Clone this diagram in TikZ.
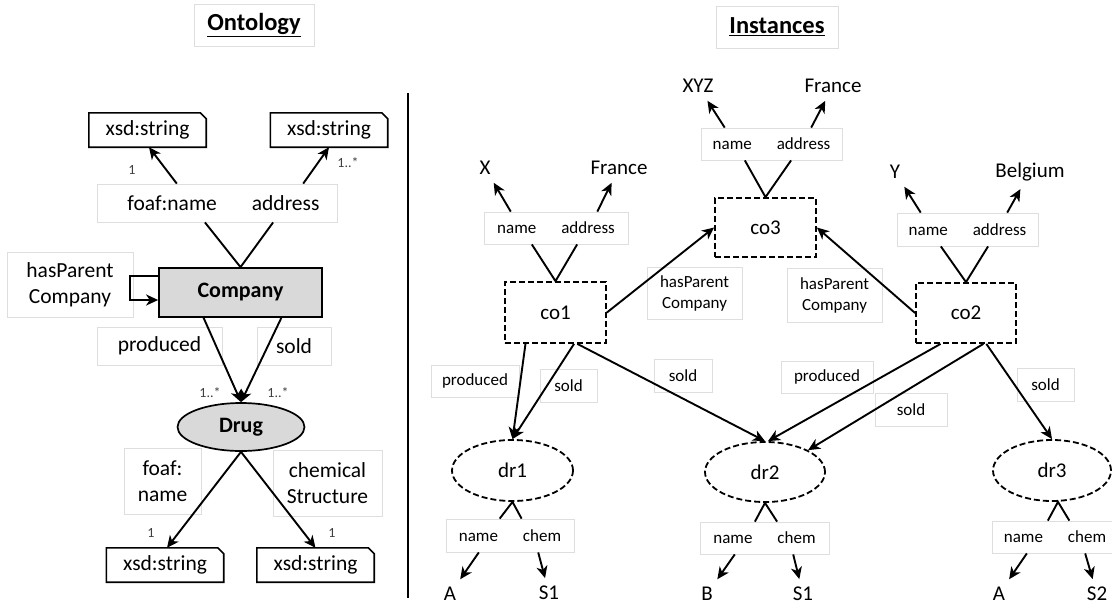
\documentclass[tikz,border=0pt]{standalone}
\usepackage{fontspec}
\setmainfont{Carlito}
\usetikzlibrary{arrows.meta,calc,shapes.geometric}
\newcommand\xsdframe[1]{\draw[line width=1.6pt] (#1.south west) -- (#1.north west) -- ([xshift=-6pt]#1.north east) -- ([yshift=-6pt]#1.north east) -- (#1.south east) -- cycle;}
\begin{document}
\begin{tikzpicture}[x=1pt,y=-1pt,
 arr/.style={line width=1.9pt,-{Stealth[length=12pt,width=11pt,inset=3.5pt]}},
 ln/.style={line width=1.9pt},
 lbl/.style={draw=black!13,line width=0.8pt,fill=white,inner sep=0pt,align=center,font=\fontsize{21.5}{26}\selectfont},
 ilbl/.style={lbl,font=\fontsize{17}{21}\selectfont},
 ttl/.style={draw=black!13,line width=0.8pt,inner sep=0pt,font=\fontsize{24.5}{28}\selectfont\bfseries},
 xsd/.style={inner sep=0pt,minimum width=117pt,minimum height=34pt,font=\fontsize{21.5}{26}\selectfont},
 cls/.style={draw,line width=1.7pt,fill=black!15,font=\fontsize{22}{26}\selectfont\bfseries,inner sep=0pt},
 inst/.style={draw,dash pattern=on 6pt off 3pt,line width=1.8pt,inner sep=0pt,font=\fontsize{21}{25}\selectfont},
 leaf/.style={inner sep=1pt,outer sep=7pt,font=\fontsize{21}{25}\selectfont},
 card/.style={inner sep=0pt,text=black!75,font=\fontsize{14}{16}\selectfont},
]
\useasboundingbox (0,0) rectangle (1112,606);

% titles
\node[ttl,minimum width=120pt,minimum height=42pt] (t1) at (254,25) {\underline{Ontology}};
\node[ttl,minimum width=122pt,minimum height=42pt] (t2) at (777,27) {\underline{Instances}};

% ontology
\node[xsd] (s1) at (147.5,130) {xsd:string};
\node[xsd] (s2) at (329,130) {xsd:string};
\xsdframe{s1}
\xsdframe{s2}
\node[lbl,minimum width=240pt,minimum height=38pt] (la) at (217,203) {\hspace*{13pt}foaf:name\hspace{35pt}address};
\node[cls,minimum width=163pt,minimum height=49pt] (comp) at (240.5,292.5) {Company};
\node[lbl,minimum width=126pt,minimum height=65pt] (hp) at (70,284.5) {hasParent\\Company};
\node[lbl,minimum width=125pt,minimum height=38pt] (pr) at (159.5,346) {produced};
\node[lbl,minimum width=74pt,minimum height=38pt] (so) at (294,346) {sold};
\node[cls,ellipse,minimum width=127pt,minimum height=48pt] (drug) at (241,427) {Drug};
\node[lbl,minimum width=77pt,minimum height=66pt] (fn) at (162.5,481) {foaf:\\name};
\node[lbl,minimum width=109pt,minimum height=66pt] (cs) at (327.5,483) {chemical\\Structure};
\node[xsd] (s3) at (165,565) {xsd:string};
\node[xsd] (s4) at (315.5,565) {xsd:string};
\xsdframe{s3}
\xsdframe{s4}
\node[card] (c1) at (132,170) {1};
\node[card] (c2) at (348,163) {1..*};
\node[card] (c3) at (210,393) {1..*};
\node[card] (c4) at (278,393) {1..*};
\node[card] (c5) at (151,533) {1};
\node[card] (c6) at (332,533) {1};

\draw[arr] ($(la.north west)!0.333!(la.north east)$) -- ([xshift=1.5pt]s1.south);
\draw[arr] ($(la.north west)!0.858!(la.north east)$) -- (s2.south);
\draw[ln] ($(la.south west)!0.45!(la.south east)$) -- (comp.north) -- ($(la.south west)!0.733!(la.south east)$);
\draw[arr] ([yshift=16.5pt]comp.west) -- ++(-28,0) |- ([yshift=-7.5pt]comp.west);
\draw[arr] ($(comp.south west)!0.276!(comp.south east)$) -- (drug.north);
\draw[arr] ($(comp.south west)!0.748!(comp.south east)$) -- (drug.north);
\draw[arr] (drug.south) -- ([xshift=2pt]s3.north);
\draw[arr] (drug.south) -- (s4.north);

% divider
\draw[line width=1.4pt] (408,93) -- (408,598);

% instances
\node[inst,minimum width=101pt,minimum height=59pt] (co3) at (765.5,227.5) {co3};
\node[inst,minimum width=101pt,minimum height=61pt] (co1) at (555.5,312.5) {co1};
\node[inst,minimum width=100pt,minimum height=60pt] (co2) at (966,313) {co2};
\node[ilbl,minimum width=141pt,minimum height=32pt] (l3) at (771.5,144) {name\hspace{25pt}address};
\node[ilbl,minimum width=144pt,minimum height=32pt] (l1) at (556,228) {name\hspace{25pt}address};
\node[ilbl,minimum width=141pt,minimum height=33pt] (l2) at (967.5,229.5) {name\hspace{25pt}address};
\node[leaf] (xyz) at (698,86) {XYZ};
\node[leaf] (fr3) at (833,86) {France};
\node[leaf] (x) at (485,168) {X};
\node[leaf] (fr1) at (619,168) {France};
\node[leaf] (y) at (895,172) {Y};
\node[leaf] (be) at (1030,172) {Belgium};

\node[ilbl,minimum width=95pt,minimum height=52pt] (hp1) at (694.5,293) {hasParent\\Company};
\node[ilbl,minimum width=95pt,minimum height=54pt] (hp2) at (834.5,295) {hasParent\\Company};

\node[ilbl,minimum width=88pt,minimum height=32pt] (p1) at (475,381) {produced};
\node[ilbl,minimum width=57pt,minimum height=33pt] (sd1) at (568.5,385.5) {sold};
\node[ilbl,minimum width=58pt,minimum height=33pt] (sd2) at (683,375.5) {sold};
\node[ilbl,minimum width=92pt,minimum height=32pt] (p2) at (827,377) {produced};
\node[ilbl,minimum width=72pt,minimum height=33pt] (sd3) at (911,409.5) {sold};
\node[ilbl,minimum width=57pt,minimum height=33pt] (sd4) at (1045.5,384.5) {sold};

\node[inst,ellipse,minimum width=121pt,minimum height=61pt] (dr1) at (512.5,470.5) {dr1};
\node[inst,ellipse,minimum width=120pt,minimum height=60pt] (dr2) at (765,472) {dr2};
\node[inst,ellipse,minimum width=118pt,minimum height=61pt] (dr3) at (1052,470.5) {dr3};

\node[ilbl,minimum width=128pt,minimum height=33pt] (b1) at (510,535.5) {name\hspace{25pt}chem};
\node[ilbl,minimum width=129pt,minimum height=32pt] (b2) at (764.5,538) {name\hspace{25pt}chem};
\node[ilbl,minimum width=122pt,minimum height=32pt] (b3) at (1053,537) {\hspace*{4pt}name\hspace{25pt}chem};

\node[leaf] (a1) at (450,594) {A};
\node[leaf] (s11) at (549,593) {S1};
\node[leaf] (bb) at (707,594) {B};
\node[leaf] (s12) at (803,594) {S1};
\node[leaf] (a3) at (999,594) {A};
\node[leaf] (s2t) at (1097,594) {S2};

\draw[arr] ($(l3.north west)!0.17!(l3.north east)$) -- (xyz);
\draw[arr] ($(l3.north west)!0.78!(l3.north east)$) -- (fr3);
\draw[ln] ($(l3.south west)!0.312!(l3.south east)$) -- (co3.north) -- ($(l3.south west)!0.638!(l3.south east)$);
\draw[arr] ($(l1.north west)!0.1875!(l1.north east)$) -- (x);
\draw[arr] ($(l1.north west)!0.785!(l1.north east)$) -- (fr1);
\draw[ln] ($(l1.south west)!0.333!(l1.south east)$) -- (co1.north) -- ($(l1.south west)!0.646!(l1.south east)$);
\draw[arr] ($(l2.north west)!0.17!(l2.north east)$) -- (y);
\draw[arr] ($(l2.north west)!0.78!(l2.north east)$) -- (be);
\draw[ln] ($(l2.south west)!0.312!(l2.south east)$) -- (co2.north) -- ($(l2.south west)!0.645!(l2.south east)$);

\draw[arr] (co1.east) -- (co3.west);
\draw[arr] (co2.west) -- (co3.east);
\draw[arr] ($(co1.south west)!0.208!(co1.south east)$) -- (dr1.north);
\draw[arr] ($(co1.south west)!0.68!(co1.south east)$) -- (dr1.north);
\draw[arr] ($(co1.south west)!0.713!(co1.south east)$) -- (dr2.north);
\draw[arr] ($(co2.south west)!0.25!(co2.south east)$) -- ([xshift=3pt]dr2.north);
\draw[arr] ($(co2.south west)!0.67!(co2.south east)$) -- (dr2.north east);
\draw[arr] ($(co2.south west)!0.70!(co2.south east)$) -- (dr3.north);

\draw[ln] ($(b1.north west)!0.42!(b1.north east)$) -- (dr1.south) -- ($(b1.north west)!0.59!(b1.north east)$);
\draw[ln] ($(b2.north west)!0.426!(b2.north east)$) -- (dr2.south) -- ($(b2.north west)!0.597!(b2.north east)$);
\draw[ln] ($(b3.north west)!0.458!(b3.north east)$) -- ([xshift=6pt]dr3.south) -- ($(b3.north west)!0.633!(b3.north east)$);
\draw[arr] ($(b1.south west)!0.258!(b1.south east)$) -- (a1);
\draw[arr] ($(b1.south west)!0.719!(b1.south east)$) -- (s11);
\draw[arr] ($(b2.south west)!0.271!(b2.south east)$) -- (bb);
\draw[arr] ($(b2.south west)!0.721!(b2.south east)$) -- (s12);
\draw[arr] ($(b3.south west)!0.287!(b3.south east)$) -- (a3);
\draw[arr] ($(b3.south west)!0.762!(b3.south east)$) -- (s2t);
\end{tikzpicture}
\end{document}
